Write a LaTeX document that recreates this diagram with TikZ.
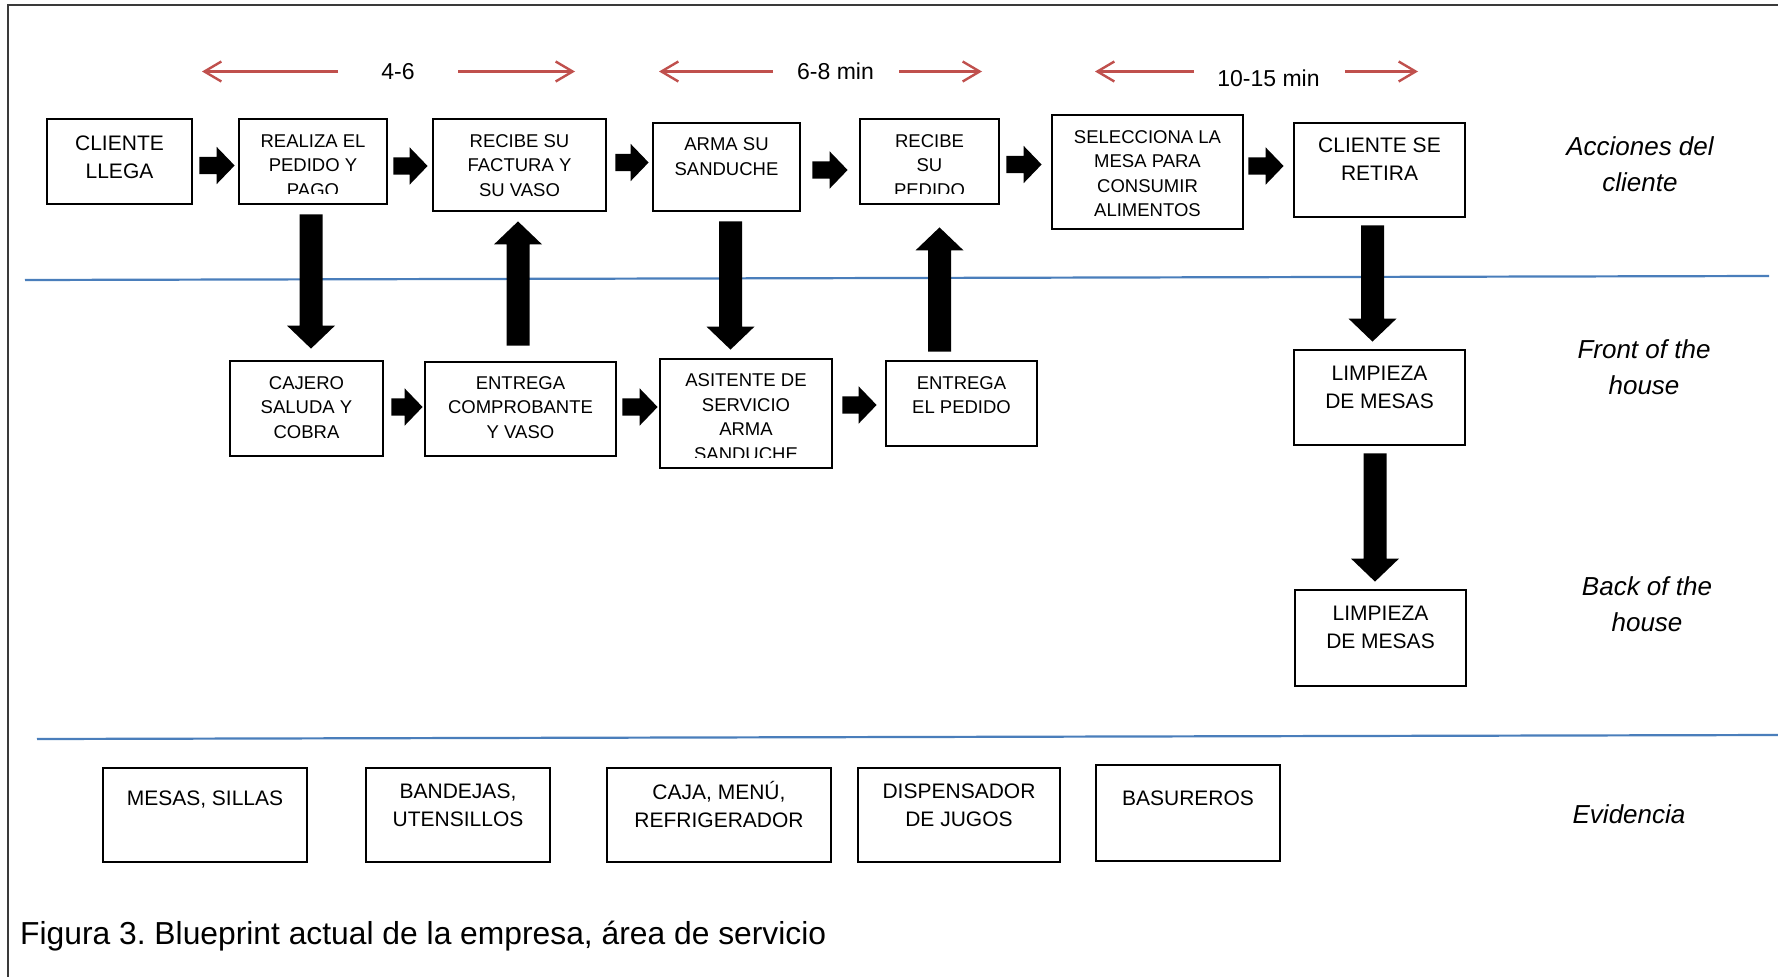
\documentclass[tikz,border=0pt]{standalone}
\usepackage{fontspec}
\setmainfont{Liberation Sans}
\usetikzlibrary{calc,arrows.meta}
\frenchspacing

\definecolor{tred}{HTML}{C0504D}
\definecolor{laneblue}{HTML}{4A7EBB}
\definecolor{framegray}{HTML}{3A3A3A}

\newcommand\fbig{\fontsize{21}{28}\selectfont}
\newcommand\fsml{\fontsize{18.5}{24.5}\selectfont}
\newcommand\flane{\fontsize{26}{36}\selectfont\itshape}
\newcommand\ftime{\fontsize{23}{28}\selectfont}
\newcommand\fcap{\fontsize{31.8}{38}\selectfont}

% fat block arrows: body 17.4 thick, head 37.4 wide and 18 long (horizontal)
\newcommand\blkright[2]{%
  \fill let \p1=(#1), \p2=(#2) in
    (\x1,\y1+8.7pt) -- (\x2-18pt,\y1+8.7pt) -- (\x2-18pt,\y1+18.7pt) -- (\x2,\y1)
    -- (\x2-18pt,\y1-18.7pt) -- (\x2-18pt,\y1-8.7pt) -- (\x1,\y1-8.7pt) -- cycle;}
% vertical block arrows: body 23 wide, head 48 wide and 23 long
\newcommand\blkdown[2]{%
  \fill let \p1=(#1), \p2=(#2) in
    (\x1-11.5pt,\y1) -- (\x1-11.5pt,\y2+23pt) -- (\x1-24pt,\y2+23pt) -- (\x1,\y2)
    -- (\x1+24pt,\y2+23pt) -- (\x1+11.5pt,\y2+23pt) -- (\x1+11.5pt,\y1) -- cycle;}
\newcommand\blkup[2]{%
  \fill let \p1=(#1), \p2=(#2) in
    (\x1-11.5pt,\y1) -- (\x1-11.5pt,\y2-23pt) -- (\x1-24pt,\y2-23pt) -- (\x1,\y2)
    -- (\x1+24pt,\y2-23pt) -- (\x1+11.5pt,\y2-23pt) -- (\x1+11.5pt,\y1) -- cycle;}

\begin{document}
\begin{tikzpicture}[x=1pt,y=-1pt,
  box/.style={draw=black, line width=2.8pt, rectangle, inner sep=0pt},
  lbl/.style={align=center, inner sep=0pt},
  lane/.style={draw=laneblue, line width=2.2pt},
  timearr/.style={draw=tred, line width=2.4pt,
    -{Straight Barb[length=17pt,width=20pt,line width=2.4pt]}},
  lanelbl/.style={lbl, font=\flane},
  timelbl/.style={lbl, font=\ftime}]

\useasboundingbox (0,0) rectangle (1778,977);

% outer frame (open to the right and bottom)
\draw[framegray, line width=1.6pt] (8,977) -- (8,5) -- (1778,5);

% swimlane separators
\draw[lane] (25,280) -- (1769,276);
\draw[lane] (37,739) -- (1778,735);

% ---- time spans ----
\node[timelbl] (t1) at (398,71.5) {4-6};
\node[timelbl] (t2) at (835.5,71.5) {6-8 min};
\node[timelbl] (t3) at (1268.5,78.5) {10-15 min};
\coordinate (r1a) at (338,71.5);  \coordinate (r1b) at (202,71.5);
\coordinate (r2a) at (458,71.5);  \coordinate (r2b) at (575,71.5);
\coordinate (r3a) at (773,71.5);  \coordinate (r3b) at (659,71.5);
\coordinate (r4a) at (899,71.5);  \coordinate (r4b) at (982,71.5);
\coordinate (r5a) at (1194,71.5); \coordinate (r5b) at (1095,71.5);
\coordinate (r6a) at (1345,71.5); \coordinate (r6b) at (1418,71.5);
\draw[timearr] (r1a) -- (r1b);
\draw[timearr] (r2a) -- (r2b);
\draw[timearr] (r3a) -- (r3b);
\draw[timearr] (r4a) -- (r4b);
\draw[timearr] (r5a) -- (r5b);
\draw[timearr] (r6a) -- (r6b);

% ---- customer actions ----
\node[box, minimum width=145, minimum height=85] (b1) at (119.5,161.5) {};
\node[box, minimum width=148, minimum height=85] (b2) at (313,161.5) {};
\node[box, minimum width=173, minimum height=92] (b3) at (519.5,165) {};
\node[box, minimum width=147, minimum height=88] (b4) at (726.5,167) {};
\node[box, minimum width=139, minimum height=85] (b5) at (929.5,161.5) {};
\node[box, minimum width=191, minimum height=114] (b6) at (1147.5,172) {};
\node[box, minimum width=171, minimum height=94] (b7) at (1379.5,170) {};

\node[lbl, font=\fbig] (b1t) at ($(b1)+(0,-4.5)$) {CLIENTE\\LLEGA};
\begin{scope}
  \clip ($(b2.south west)+(0,-12)$) rectangle (b2.north east);
  \node[lbl, font=\fsml] (b2t) at ($(b2)+(0,4)$) {REALIZA EL\\PEDIDO Y\\PAGO};
\end{scope}
\node[lbl, font=\fsml] (b3t) at ($(b3)+(0,0.5)$) {RECIBE SU\\FACTURA Y\\SU VASO};
\node[lbl, font=\fsml] (b4t) at ($(b4)+(0,-10.5)$) {ARMA SU\\SANDUCHE};
\begin{scope}
  \clip ($(b5.south west)+(0,-12)$) rectangle (b5.north east);
  \node[lbl, font=\fsml] (b5t) at ($(b5)+(0,4)$) {RECIBE\\SU\\PEDIDO};
\end{scope}
\node[lbl, font=\fsml] (b6t) at ($(b6)+(0,1.5)$) {SELECCIONA LA\\MESA PARA\\CONSUMIR\\ALIMENTOS};
\node[lbl, font=\fbig] (b7t) at ($(b7)+(0,-10.5)$) {CLIENTE SE\\RETIRA};

% ---- front of the house ----
\node[box, minimum width=153, minimum height=95] (c1) at (306.5,408.5) {};
\node[box, minimum width=191, minimum height=94] (c2) at (520.5,409) {};
\node[box, minimum width=172, minimum height=109] (c3) at (746,413.5) {};
\node[box, minimum width=151, minimum height=85] (c4) at (961.5,403.5) {};
\node[box, minimum width=171, minimum height=95] (d1) at (1379.5,397.5) {};

\node[lbl, font=\fsml] (c1t) at ($(c1)+(0,-1)$) {CAJERO\\SALUDA Y\\COBRA};
\node[lbl, font=\fsml] (c2t) at ($(c2)+(0,-1.5)$) {ENTREGA\\COMPROBANTE\\Y VASO};
\begin{scope}
  \clip ($(c3.south west)+(0,-12)$) rectangle (c3.north east);
  \node[lbl, font=\fsml] (c3t) at ($(c3)+(0,3.5)$) {ASITENTE DE\\SERVICIO\\ARMA\\SANDUCHE};
\end{scope}
\node[lbl, font=\fsml] (c4t) at ($(c4)+(0,-8.5)$) {ENTREGA\\EL PEDIDO};
\node[lbl, font=\fbig] (d1t) at ($(d1)+(0,-10)$) {LIMPIEZA\\DE MESAS};

% ---- back of the house ----
\node[box, minimum width=171, minimum height=96] (d2) at (1380.5,638) {};
\node[lbl, font=\fbig] (d2t) at ($(d2)+(0,-10.5)$) {LIMPIEZA\\DE MESAS};

% ---- physical evidence ----
\node[box, minimum width=204, minimum height=94] (e1) at (205,815) {};
\node[box, minimum width=184, minimum height=94] (e2) at (458,815) {};
\node[box, minimum width=224, minimum height=94] (e3) at (719,815) {};
\node[box, minimum width=202, minimum height=94] (e4) at (959,815) {};
\node[box, minimum width=184, minimum height=96] (e5) at (1188,813) {};
\node[lbl, font=\fbig] (e1t) at ($(e1)+(0,-15)$) {MESAS, SILLAS};
\node[lbl, font=\fbig] (e2t) at ($(e2)+(0,-9.5)$) {BANDEJAS,\\UTENSILLOS};
\node[lbl, font=\fbig] (e3t) at ($(e3)+(0,-10.5)$) {CAJA, MENÚ,\\REFRIGERADOR};
\node[lbl, font=\fbig] (e4t) at ($(e4)+(0,-9.5)$) {DISPENSADOR\\DE JUGOS};
\node[lbl, font=\fbig] (e5t) at ($(e5)+(0,-15)$) {BASUREROS};

% ---- lane titles ----
\node[lanelbl] (l1) at (1640,164) {Acciones del\\cliente};
\node[lanelbl] (l2) at (1644,367.5) {Front of the\\house};
\node[lanelbl] (l3) at (1647,604.5) {Back of the\\house};
\node[lanelbl] (l4) at (1629,814) {Evidencia};

% ---- flow arrows ----
\blkright{$(b1.east)+(6,4)$}{$(b2.west)+(-3,0)$}
\blkright{$(b2.east)+(5,4.5)$}{$(b3.west)+(-4,0)$}
\blkright{$(b3.east)+(8,-2.5)$}{$(b4.west)+(-3,0)$}
\blkright{$(b4.east)+(11,3)$}{$(b5.west)+(-11,0)$}
\blkright{$(b5.east)+(6,3)$}{$(b6.west)+(-9,0)$}
\blkright{$(b6.east)+(4,-6)$}{$(b7.west)+(-9,0)$}

\blkright{$(c1.east)+(7,-1.5)$}{$(c2.west)+(-1,0)$}
\blkright{$(c2.east)+(5,-2)$}{$(c3.west)+(-1,0)$}
\blkright{$(c3.east)+(9,-8.5)$}{$(c4.west)+(-8,0)$}

\blkdown{$(b2.south)+(-2,9)$}{$(c1.north)+(0,-11)$}
\blkup{$(c2.north)+(-2.5,-15)$}{$(b3.south)+(0,9)$}
\blkdown{$(b4.south)+(4,9)$}{$(c3.north)+(0,-8)$}
\blkup{$(c4.north)+(-22,-8)$}{$(b5.south)+(0,22)$}
\blkdown{$(b7.south)+(-7,7)$}{$(d1.north)+(0,-7)$}
\blkdown{$(d1.south)+(-4.5,7)$}{$(d2.north)+(0,-7)$}

% ---- caption ----
\node[anchor=base west, inner sep=0pt, font=\fcap] (cap) at (20,944)
  {Figura 3. Blueprint actual de la empresa, área de servicio};
\end{tikzpicture}
\end{document}
